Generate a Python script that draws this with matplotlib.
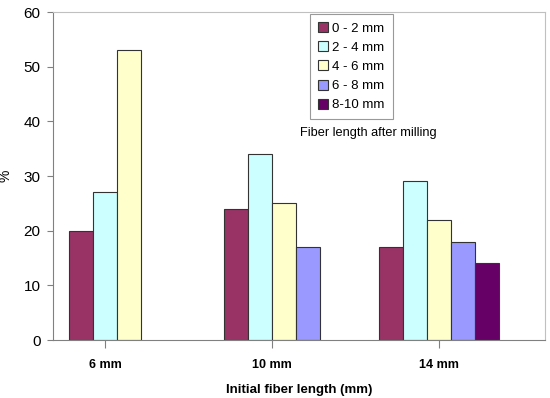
import numpy as np
import matplotlib.pyplot as plt

plt.rcParams['font.family'] = ['Liberation Sans', 'DejaVu Sans']

groups = ["6 mm", "10 mm", "14 mm"]
series = ["0 - 2 mm", "2 - 4 mm", "4 - 6 mm", "6 - 8 mm", "8-10 mm"]
colors = ["#993366", "#CCFFFF", "#FFFFCC", "#9999FF", "#660066"]
# None = no bar for that class
values = [
    [20, 27, 53, None, None],
    [24, 34, 25, 17, None],
    [17, 29, 22, 18, 14],
]

fig = plt.figure(figsize=(5.5, 3.98), dpi=100)
ax = fig.add_axes([53 / 550, 1 - 340 / 398, 492 / 550, 328 / 398])

width = 0.1437
handles = {}
for gi, row in enumerate(values):
    present = [(si, v) for si, v in enumerate(row) if v is not None]
    n = len(present)
    for k, (si, v) in enumerate(present):
        x = gi + (k - (n - 1) / 2) * width
        b = ax.bar(x, v, width, color=colors[si], edgecolor="#333333",
                   linewidth=0.8, label=series[si])
        handles[si] = b

ax.set_xlim(-0.311, 2.635)
ax.set_ylim(0, 60)
ax.set_yticks(np.arange(0, 61, 10))
ax.set_xticks(range(len(groups)))
ax.set_xticklabels(groups, fontsize=9, fontweight="bold")
ax.tick_params(axis="y", labelsize=11, length=4, color="#808080", pad=5)
ax.tick_params(axis="x", length=6, color="#808080", pad=8)
for s in ["left", "bottom"]:
    ax.spines[s].set_color("#808080")
for s in ["top", "right"]:
    ax.spines[s].set_color("#C0C0C0")

ax.set_ylabel("%", fontsize=10)
ax.yaxis.set_label_coords(-0.082, 0.5)
ax.set_xlabel("Initial fiber length (mm)", fontsize=9.5, fontweight="bold", labelpad=9)

leg = ax.legend([handles[i] for i in range(5)], series, loc="upper left",
                bbox_to_anchor=(0.522, 0.994), fontsize=9.5, frameon=True,
                fancybox=False, edgecolor="#808080", handlelength=0.8,
                handleheight=0.8, handletextpad=0.3, labelspacing=0.5,
                borderpad=0.6, borderaxespad=0)
leg.get_frame().set_linewidth(0.8)

ax.text(0.640, 0.631, "Fiber length after milling", transform=ax.transAxes,
        ha="center", va="center", fontsize=9.2)

fig.savefig("out.png", dpi=100)
